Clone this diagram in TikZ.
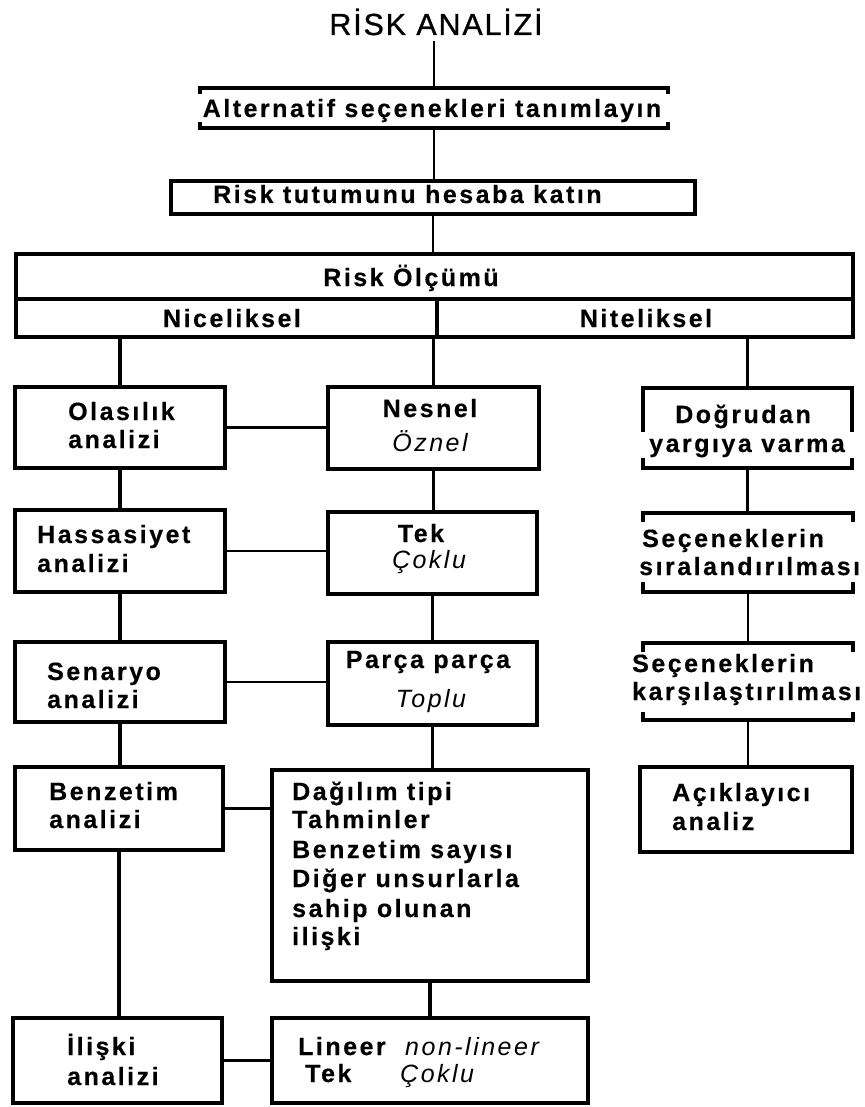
\documentclass[tikz,border=0pt]{standalone}
\usepackage{fontspec}
\setmainfont{Liberation Sans}
\newfontfamily\lsans{Liberation Sans}[LetterSpace=10, BoldFeatures={FakeBold=0.4}]
\newfontfamily\tsans{Liberation Sans}[LetterSpace=6, FakeBold=0.9]
\newcommand{\lbfont}{\lsans\bfseries\fontsize{25}{28}\selectfont}
\newcommand{\lifont}{\lsans\itshape\fontsize{25}{28}\selectfont}
\newcommand{\ttlfont}{\tsans\fontsize{30.5}{36}\selectfont}

\tikzset{
  boxline/.style={line width=3.9pt, draw=black, line join=miter},
  box/.style={boxline, rectangle, inner sep=0pt},
  frame/.style={rectangle, inner sep=0pt, draw=none},
  conn/.style={line width=3.5pt},
  thinconn/.style={line width=2.5pt},
  lbl/.style={inner sep=0pt, anchor=base west, font=\lbfont},
  clbl/.style={inner sep=0pt, anchor=base, font=\lbfont},
  ilbl/.style={inner sep=0pt, anchor=base west, font=\lifont},
  cilbl/.style={inner sep=0pt, anchor=base, font=\lifont},
}

% open frame: top and bottom rules with short end ticks
\newcommand{\bracketframe}[3]{%
  \draw[boxline] ([yshift=-#2pt]#1.north west) -- (#1.north west) -- (#1.north east) -- ([yshift=-#2pt]#1.north east);
  \draw[boxline] ([yshift=#3pt]#1.south west) -- (#1.south west) -- (#1.south east) -- ([yshift=#3pt]#1.south east);}

\begin{document}
\begin{tikzpicture}[x=1pt, y=-1pt]
\fill[white] (0,0) rectangle (864,1107);
\useasboundingbox (0,0) rectangle (864,1107);

% ---- title and top chain ----
\node[inner sep=0pt, anchor=base, font=\ttlfont] (title) at (436,35) {RİSK ANALİZİ};

\node[frame, minimum width=468, minimum height=40] (alt) at (434,108) {};
\node[clbl] (altT) at (432,117) {Alternatif seçenekleri tanımlayın};

\node[box, minimum width=524, minimum height=33] (tut) at (433,197.5) {};
\node[lbl] (tutT) at (213,203) {Risk tutumunu hesaba katın};

% ---- measurement header ----
\node[box, minimum width=837, minimum height=83] (olc) at (434.5,295.5) {};
\coordinate (div) at (437,299);
\node[clbl] (olcT) at (411,286) {Risk Ölçümü};
\node[clbl] (nicT) at (232,327) {Niceliksel};
\node[clbl] (nitT) at (646,327) {Niteliksel};

% ---- quantitative column ----
\node[box, minimum width=210, minimum height=81] (ola) at (120,427.5) {};
\node[lbl] (olaT1) at (68,420) {Olasılık};
\node[lbl] (olaT2) at (68,448) {analizi};

\node[box, minimum width=210, minimum height=82] (has) at (120,551) {};
\node[lbl] (hasT1) at (37,543) {Hassasiyet};
\node[lbl] (hasT2) at (37,572) {analizi};

\node[box, minimum width=210, minimum height=80] (sen) at (120,682) {};
\node[lbl] (senT1) at (47,680) {Senaryo};
\node[lbl] (senT2) at (47,708) {analizi};

\node[box, minimum width=208, minimum height=83] (ben) at (119,808.5) {};
\node[lbl] (benT1) at (49,800) {Benzetim};
\node[lbl] (benT2) at (49,828) {analizi};

\node[box, minimum width=209, minimum height=85] (ili) at (117.5,1060.5) {};
\node[lbl] (iliT1) at (67,1055) {İlişki};
\node[lbl] (iliT2) at (67,1085) {analizi};

% ---- middle column ----
\node[box, minimum width=211, minimum height=82] (nes) at (433.5,428) {};
\node[clbl] (nesT1) at (430,417) {Nesnel};
\node[cilbl] (nesT2) at (430,451) {Öznel};

\node[box, minimum width=209, minimum height=82] (tek) at (432.5,553) {};
\node[clbl] (tekT1) at (421,542) {Tek};
\node[cilbl] (tekT2) at (429,568) {Çoklu};

\node[box, minimum width=209, minimum height=83] (par) at (432.5,683.5) {};
\node[clbl] (parT1) at (428,668) {Parça parça};
\node[cilbl] (parT2) at (431,707) {Toplu};

\node[box, minimum width=316, minimum height=211] (dag) at (430,875.5) {};
\node[lbl] (dagT1) at (292,800) {Dağılım tipi};
\node[lbl] (dagT2) at (292,828) {Tahminler};
\node[lbl] (dagT3) at (292,858) {Benzetim sayısı};
\node[lbl] (dagT4) at (292,887) {Diğer unsurlarla};
\node[lbl] (dagT5) at (292,917) {sahip olunan};
\node[lbl] (dagT6) at (292,945) {ilişki};

\node[box, minimum width=316, minimum height=85] (lin) at (430,1060.5) {};
\node[lbl] (linT1) at (298,1055) {Lineer};
\node[ilbl] (linT2) at (405,1055) {non-lineer};
\node[lbl] (linT3) at (305,1082) {Tek};
\node[ilbl] (linT4) at (400,1082) {Çoklu};

% ---- qualitative column ----
\node[frame, minimum width=209, minimum height=80] (dog) at (747.5,428) {};
\node[clbl] (dogT1) at (743,423) {Doğrudan};
\node[lbl] (dogT2) at (649,452) {yargıya varma};

\node[frame, minimum width=210, minimum height=79] (sir) at (748,552.5) {};
\node[lbl] (sirT1) at (642,547) {Seçeneklerin};
\node[lbl] (sirT2) at (639,575) {sıralandırılması};

\node[frame, minimum width=210, minimum height=77] (kar) at (748,681.5) {};
\node[lbl] (karT1) at (632,672) {Seçeneklerin};
\node[lbl] (karT2) at (632,700) {karşılaştırılması};

\node[box, minimum width=212, minimum height=85] (aci) at (746,809.5) {};
\node[lbl] (aciT1) at (672,801) {Açıklayıcı};
\node[lbl] (aciT2) at (672,830) {analiz};

% ---- open frames ----
\bracketframe{alt}{6}{6}
\bracketframe{dog}{44}{10}
\bracketframe{sir}{9}{10}
\bracketframe{kar}{9}{8}

% header dividers
\draw[boxline] (olc.west |- div) -- (olc.east |- div);
\draw[boxline] (div) -- (div |- olc.south);

% ---- connectors ----
\draw[thinconn] (alt.north |- title.south) ++(0,6) -- (alt.north);
\draw[thinconn] (alt.south) -- (alt.south |- tut.north);
\draw[thinconn] (tut.south) -- (tut.south |- olc.north);

\draw[conn] (ola.north |- olc.south) -- (ola.north);
\draw[conn] (nes.north |- olc.south) -- (nes.north);
\draw[thinconn] (dog.north |- olc.south) -- (dog.north);

\draw[conn] (ola.south) -- (has.north);
\draw[conn] (has.south) -- (has.south |- sen.north);
\draw[conn] (sen.south) -- (sen.south |- ben.north);
\draw[conn] (ben.south) -- (ben.south |- ili.north);

\draw[conn] (nes.south) -- (nes.south |- tek.north);
\draw[conn] (tek.south) -- (par.north);
\draw[conn] (par.south) -- (par.south |- dag.north);
\draw[conn] (dag.south) -- (lin.north);

\draw[thinconn] (dog.south) -- (dog.south |- sir.north);
\draw[thinconn] (sir.south) -- (kar.north);
\draw[thinconn] (kar.south) -- (kar.south |- aci.north);

\draw[thinconn] (ola.east) -- (ola.east -| nes.west);
\draw[thinconn] (has.east) -- (has.east -| tek.west);
\draw[thinconn] (sen.east) -- (sen.east -| par.west);
\draw[thinconn] (ben.east) -- (ben.east -| dag.west);
\draw[thinconn] (ili.east) -- (ili.east -| lin.west);
\end{tikzpicture}
\end{document}
